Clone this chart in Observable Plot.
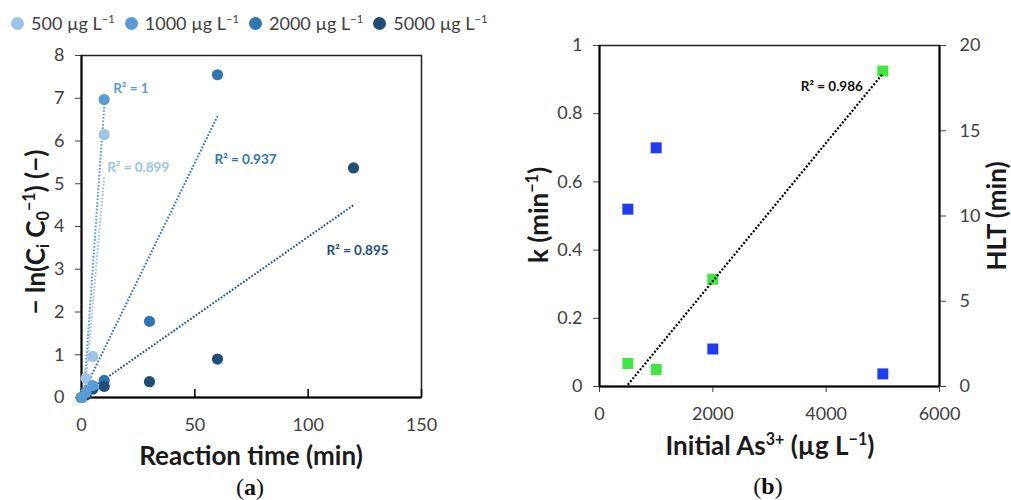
<!DOCTYPE html>
<html>
<head>
<meta charset="utf-8">
<script src="https://cdn.jsdelivr.net/npm/d3@7"></script>
<script src="https://cdn.jsdelivr.net/npm/@observablehq/plot@0.6"></script>
<style>
  body { margin: 0; background: #fff; }
  #root { position: relative; width: 1011px; height: 500px; overflow: hidden; font-family: Lato, "Open Sans", sans-serif; background: #fff; }
  .abs { position: absolute; }
  .title { position: absolute; width: max-content; font-weight: bold; font-size: 26px; color: #1a1a1a; white-space: nowrap; transform: translate(-50%, -50%); line-height: 1.25; }
  .vtitle { transform: translate(-50%, -50%) rotate(-90deg); }
  .title sup, .legend sup { font-size: 0.62em; vertical-align: 0.6em; line-height: 0; }
  .title sub { font-size: 0.62em; vertical-align: -0.25em; line-height: 0; }
  .cap { position: absolute; width: max-content; font-family: "Liberation Serif", "DejaVu Serif", serif; font-size: 24px; color: #111; white-space: nowrap; transform: translate(-50%, -50%); line-height: 1.3; }
  .legend { position: absolute; left: 11px; top: 10px; height: 26px; display: flex; align-items: center; font-size: 18px; color: #404040; white-space: nowrap; }
  .legend .dot { width: 13px; height: 13px; border-radius: 50%; margin-right: 7px; }
  .legend .item { display: flex; align-items: center; margin-right: 10px; }
</style>
</head>
<body>
<div id="root"></div>
<script>
// ---------- Panel (a) data ----------
const concentrations = [500, 1000, 2000, 5000];
const t500 = [0, 2, 5, 10];
const lnr500 = [0, 0.45, 0.96, 6.15];
const t1000 = [0, 2, 5, 10];
const lnr1000 = [0, 0.12, 0.28, 6.97];
const t2000 = [0, 2, 5, 10, 30, 60];
const lnr2000 = [0, 0.12, 0.22, 0.4, 1.78, 7.55];
const t5000 = [0, 2, 5, 10, 30, 60, 120];
const lnr5000 = [0, 0.06, 0.2, 0.26, 0.37, 0.9, 5.37];
// linear trendlines (start/end)
const trendStartT = [0, 0, 0, 0];
const trendStartV = [-0.75, -0.7, 0.04, 0.05];
const trendEndT = [10, 10, 60, 120];
const trendEndV = [5.15, 6.8, 6.58, 4.5];
const r2A = [0.899, 1, 0.937, 0.895];
const xTicksA = [0, 50, 100, 150];
const yTicksA = [0, 1, 2, 3, 4, 5, 6, 7, 8];

// ---------- Panel (b) data ----------
const initialAs = [500, 1000, 2000, 5000];
const kValues = [0.52, 0.70, 0.11, 0.037];
const hltValues = [1.35, 1.0, 6.29, 18.5];
const hltTrendX = [500, 5000];
const hltTrendY = [0.1, 18.35];
const r2B = 0.986;
const xTicksB = [0, 2000, 4000, 6000];
const kTicks = [0, 0.2, 0.4, 0.6, 0.8, 1];
const hltTicks = [0, 5, 10, 15, 20];
const hltMax = 20;

// ---------- styles ----------
const colorsA = ["#9dc3e6", "#5b9bd5", "#2e75b6", "#1f4e79"];
const kColor = "#1f3cf2";
const hltColor = "#3ee83e";

const seriesT = [t500, t1000, t2000, t5000];
const seriesV = [lnr500, lnr1000, lnr2000, lnr5000];
const drawOrder = [0, 2, 3, 1];
const pointsA = drawOrder.flatMap(i => seriesT[i].map((t, j) => ({t, v: seriesV[i][j], color: colorsA[i]})));
const trendsA = concentrations.map((c, i) => ({t0: trendStartT[i], v0: trendStartV[i], t1: trendEndT[i], v1: trendEndV[i], color: colorsA[i]}));
const labelOffsets = [[3, -10], [9, -18], [-3, 43], [-27, 46]];

const root = document.getElementById("root");

// Legend
const legend = document.createElement("div");
legend.className = "legend";
legend.innerHTML = concentrations.map((c, i) =>
  `<div class="item"><div class="dot" style="background:${colorsA[i]}"></div><span>${c} µg L<sup>−1</sup></span></div>`).join("");

const H = 470;
const mA = {l: 81, r: 19, t: 55, b: 73};
const plotA = Plot.plot({
  width: 440, height: H,
  marginLeft: mA.l, marginRight: mA.r, marginTop: mA.t, marginBottom: mA.b,
  style: {fontFamily: "Lato, 'Open Sans', sans-serif", fontSize: "18px", color: "#404040", background: "transparent", overflow: "visible"},
  x: {domain: [0, 150]},
  y: {domain: [0, 8]},
  color: {type: "identity"},
  marks: [
    Plot.frame({stroke: "#222", strokeWidth: 1.5}),
    Plot.axisY({ticks: yTicksA, tickSize: 6, tickPadding: 11, label: null, tickFormat: d => String(d)}),
    Plot.axisX({ticks: xTicksA, tickSize: 0, tickPadding: 21, label: null, tickFormat: d => String(d)}),
    Plot.tickX(xTicksA, {x: d => d, insetTop: H - mA.t - mA.b - 8, stroke: "#000", strokeWidth: 1.5}),
    Plot.ruleX([0], {stroke: "#000", strokeWidth: 2}),
    Plot.ruleY([0], {stroke: "#000", strokeWidth: 2}),
    Plot.link(trendsA, {x1: "t0", y1: "v0", x2: "t1", y2: "v1", stroke: "color", strokeWidth: 2, strokeDasharray: "1.7 1.7", clip: true}),
    Plot.dot(pointsA, {x: "t", y: "v", fill: "color", r: 5.6}),
    ...concentrations.map((c, i) => Plot.text([i], {
      x: j => trendEndT[j], y: j => trendEndV[j], text: j => `R² = ${r2A[j]}`,
      fill: colorsA[i], fontWeight: "bold", fontSize: 13.5, textAnchor: "start",
      dx: labelOffsets[i][0], dy: labelOffsets[i][1]
    }))
  ]
});

const mB = {l: 79, r: 72, t: 45, b: 84};
const pointsB = initialAs.map((x, i) => ({x, k: kValues[i], h: hltValues[i] / hltMax}));
const trendB = [{x1: hltTrendX[0], y1: hltTrendY[0] / hltMax, x2: hltTrendX[1], y2: hltTrendY[1] / hltMax}];
const plotB = Plot.plot({
  width: 491, height: H,
  marginLeft: mB.l, marginRight: mB.r, marginTop: mB.t, marginBottom: mB.b,
  style: {fontFamily: "Lato, 'Open Sans', sans-serif", fontSize: "18px", color: "#404040", background: "transparent", overflow: "visible"},
  x: {domain: [0, 6000]},
  y: {domain: [0, 1]},
  marks: [
    Plot.frame({stroke: "#222", strokeWidth: 1.5}),
    Plot.axisY({ticks: kTicks, tickSize: 6, tickPadding: 11, label: null, tickFormat: d => String(d)}),
    Plot.axisY(hltTicks.map(h => h / hltMax), {anchor: "right", tickSize: 6, tickPadding: 14, label: null, tickFormat: d => String(Math.round(d * hltMax))}),
    Plot.axisX({ticks: xTicksB, tickSize: 6, tickPadding: 15, label: null, tickFormat: d => String(d)}),
    Plot.ruleX([0], {stroke: "#000", strokeWidth: 2}),
    Plot.ruleX([6000], {stroke: "#000", strokeWidth: 2}),
    Plot.ruleY([0], {stroke: "#000", strokeWidth: 2}),
    Plot.dot(pointsB, {x: "x", y: "k", symbol: "square", r: 6.2, fill: kColor}),
    Plot.dot(pointsB, {x: "x", y: "h", symbol: "square", r: 6.2, fill: hltColor}),
    Plot.link(trendB, {x1: "x1", y1: "y1", x2: "x2", y2: "y2", stroke: "#000", strokeWidth: 2.2, strokeDasharray: "2 1.8"}),
    Plot.text(trendB, {x: "x2", y: "y2", text: () => `R² = ${r2B}`, fill: "#111", fontWeight: "bold", fontSize: 13.5, textAnchor: "end", dx: -20, dy: 13})
  ]
});

const wrapA = document.createElement("div");
wrapA.className = "abs"; wrapA.style.left = "0px"; wrapA.style.top = "0px";
wrapA.appendChild(plotA);
const wrapB = document.createElement("div");
wrapB.className = "abs"; wrapB.style.left = "520px"; wrapB.style.top = "0px";
wrapB.appendChild(plotB);
root.appendChild(wrapA);
root.appendChild(wrapB);
root.appendChild(legend);

function addTitle(html, x, y, vertical, cls = "title") {
  const d = document.createElement("div");
  d.className = cls + (vertical ? " vtitle" : "");
  d.innerHTML = html;
  d.style.left = x + "px"; d.style.top = y + "px";
  root.appendChild(d);
}
addTitle("Reaction time (min)", 251, 455, false);
addTitle("− ln(C<sub>i</sub> C<sub>0</sub><sup>−1</sup>) (−)", 35, 232, true);
addTitle("Initial As<sup>3+</sup> (µg L<sup>−1</sup>)", 770, 445, false);
addTitle("k (min<sup>−1</sup>)", 538, 215, true);
addTitle("HLT (min)", 996, 216, true);
addTitle("(<b>a</b>)", 250, 488, false, "cap");
addTitle("(<b>b</b>)", 768, 487, false, "cap");
</script>
</body>
</html>
